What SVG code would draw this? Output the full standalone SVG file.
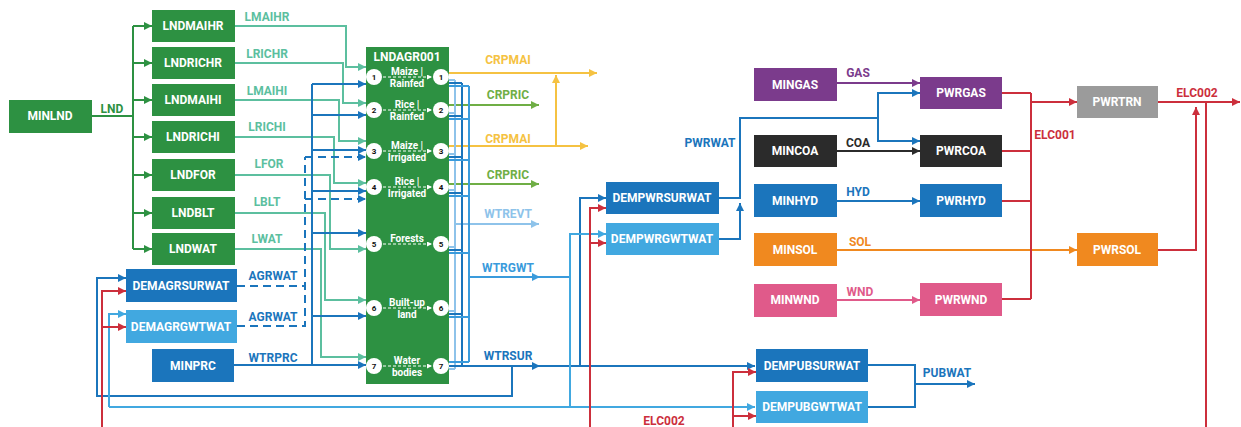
<svg xmlns="http://www.w3.org/2000/svg" width="1241" height="427" viewBox="0 0 1241 427">
<style>
text{font-family:Roboto,"Liberation Sans",Arial,sans-serif;font-weight:bold;}
.nt{fill:#fff;font-size:12px;text-anchor:middle;dominant-baseline:central;}
.lb{font-size:12px;text-anchor:middle;dominant-baseline:central;}
.in{fill:#fff;font-size:10px;text-anchor:middle;dominant-baseline:central;}
.cn{fill:#111;font-size:8px;text-anchor:middle;dominant-baseline:central;}
.c{fill:#fff;}
#connectors path{fill:none;stroke-width:2;}
.ah{stroke:none;}
.g{stroke:#2d9142;}
.t{stroke:#5cbf9f;}
.b{stroke:#1b75bc;}
.lbl{stroke:#41a8e0;}
.gw{stroke:#3a9bdc;}
.ev{stroke:#8ec3ea;}
.r{stroke:#cc2f3c;}
.y{stroke:#f5c242;}
.lg{stroke:#6fae45;}
.p{stroke:#7b3b8c;}
.k{stroke:#2b2b2b;}
.o{stroke:#f0891f;}
.pk{stroke:#e05a8a;}
.d{stroke-dasharray:8,5;}
.wd{stroke:#fff;stroke-width:1;stroke-dasharray:3,2;}
</style>
<defs>
<marker id="mg" viewBox="0 0 10 10" refX="10" refY="5" markerWidth="9" markerHeight="8" markerUnits="userSpaceOnUse" orient="auto"><path class="ah" d="M0,0L10,5L0,10z" fill="#2d9142"/></marker>
<marker id="mt" viewBox="0 0 10 10" refX="10" refY="5" markerWidth="9" markerHeight="8" markerUnits="userSpaceOnUse" orient="auto"><path class="ah" d="M0,0L10,5L0,10z" fill="#5cbf9f"/></marker>
<marker id="mb" viewBox="0 0 10 10" refX="10" refY="5" markerWidth="9" markerHeight="8" markerUnits="userSpaceOnUse" orient="auto"><path class="ah" d="M0,0L10,5L0,10z" fill="#1b75bc"/></marker>
<marker id="ml" viewBox="0 0 10 10" refX="10" refY="5" markerWidth="9" markerHeight="8" markerUnits="userSpaceOnUse" orient="auto"><path class="ah" d="M0,0L10,5L0,10z" fill="#41a8e0"/></marker>
<marker id="mgw" viewBox="0 0 10 10" refX="10" refY="5" markerWidth="9" markerHeight="8" markerUnits="userSpaceOnUse" orient="auto"><path class="ah" d="M0,0L10,5L0,10z" fill="#3a9bdc"/></marker>
<marker id="mev" viewBox="0 0 10 10" refX="10" refY="5" markerWidth="9" markerHeight="8" markerUnits="userSpaceOnUse" orient="auto"><path class="ah" d="M0,0L10,5L0,10z" fill="#8ec3ea"/></marker>
<marker id="mr" viewBox="0 0 10 10" refX="10" refY="5" markerWidth="9" markerHeight="8" markerUnits="userSpaceOnUse" orient="auto"><path class="ah" d="M0,0L10,5L0,10z" fill="#cc2f3c"/></marker>
<marker id="my" viewBox="0 0 10 10" refX="10" refY="5" markerWidth="9" markerHeight="8" markerUnits="userSpaceOnUse" orient="auto"><path class="ah" d="M0,0L10,5L0,10z" fill="#f5c242"/></marker>
<marker id="mlg" viewBox="0 0 10 10" refX="10" refY="5" markerWidth="9" markerHeight="8" markerUnits="userSpaceOnUse" orient="auto"><path class="ah" d="M0,0L10,5L0,10z" fill="#6fae45"/></marker>
<marker id="mp" viewBox="0 0 10 10" refX="10" refY="5" markerWidth="9" markerHeight="8" markerUnits="userSpaceOnUse" orient="auto"><path class="ah" d="M0,0L10,5L0,10z" fill="#7b3b8c"/></marker>
<marker id="mk" viewBox="0 0 10 10" refX="10" refY="5" markerWidth="9" markerHeight="8" markerUnits="userSpaceOnUse" orient="auto"><path class="ah" d="M0,0L10,5L0,10z" fill="#2b2b2b"/></marker>
<marker id="mo" viewBox="0 0 10 10" refX="10" refY="5" markerWidth="9" markerHeight="8" markerUnits="userSpaceOnUse" orient="auto"><path class="ah" d="M0,0L10,5L0,10z" fill="#f0891f"/></marker>
<marker id="mpk" viewBox="0 0 10 10" refX="10" refY="5" markerWidth="9" markerHeight="8" markerUnits="userSpaceOnUse" orient="auto"><path class="ah" d="M0,0L10,5L0,10z" fill="#e05a8a"/></marker>
<marker id="mw" viewBox="0 0 10 10" refX="10" refY="5" markerWidth="6" markerHeight="5" markerUnits="userSpaceOnUse" orient="auto"><path class="ah" d="M0,0L10,5L0,10z" fill="#fff"/></marker>
</defs>

<g id="connectors">
<path class="g" d="M91,116H133M133,26V249"/>
<path class="g" d="M133,26H152" marker-end="url(#mg)"/>
<path class="g" d="M133,63H152" marker-end="url(#mg)"/>
<path class="g" d="M133,100H152" marker-end="url(#mg)"/>
<path class="g" d="M133,137H152" marker-end="url(#mg)"/>
<path class="g" d="M133,175H152" marker-end="url(#mg)"/>
<path class="g" d="M133,213H152" marker-end="url(#mg)"/>
<path class="g" d="M133,249H152" marker-end="url(#mg)"/>
<path class="t" d="M235,26H346V67H366" marker-end="url(#mt)"/>
<path class="t" d="M235,63H343V103H366" marker-end="url(#mt)"/>
<path class="t" d="M235,100H339V141H366" marker-end="url(#mt)"/>
<path class="t" d="M235,137H334V183H366" marker-end="url(#mt)"/>
<path class="t" d="M235,175H330V249H366" marker-end="url(#mt)"/>
<path class="t" d="M235,213H325V300H366" marker-end="url(#mt)"/>
<path class="t" d="M235,249H321V357H366" marker-end="url(#mt)"/>
<path class="b" d="M234,365H312V84"/>
<path class="b" d="M312,365H366" marker-end="url(#mb)"/>
<path class="b" d="M312,84H366" marker-end="url(#mb)"/>
<path class="b" d="M312,115H366" marker-end="url(#mb)"/>
<path class="b" d="M312,150H366" marker-end="url(#mb)"/>
<path class="b" d="M312,191H366" marker-end="url(#mb)"/>
<path class="b" d="M312,233H366" marker-end="url(#mb)"/>
<path class="b" d="M312,316H366" marker-end="url(#mb)"/>
<path class="b d" d="M237,286H305M237,326H305V157"/>
<path class="b d" d="M305,157H366" marker-end="url(#mb)"/>
<path class="b d" d="M305,199H366" marker-end="url(#mb)"/>
<path class="y" d="M449,73H597" marker-end="url(#my)"/>
<path class="y" d="M449,146H588" marker-end="url(#my)"/>
<path class="y" d="M556,146V75" marker-end="url(#my)"/>
<path class="lg" d="M449,105H539" marker-end="url(#mlg)"/>
<path class="lg" d="M449,184H539" marker-end="url(#mlg)"/>
<path class="ev" stroke-width="1.5" d="M449,80H455M449,113H455M449,154H455M449,190H455M449,247H455M449,311H455M449,369H455M455,80V369"/>
<path class="ev" d="M455,224H539" marker-end="url(#mev)"/>
<path class="b" stroke-width="1.5" d="M449,83H462M449,116H462M449,157H462M449,193H462M449,250H462M449,314H462M462,83V366"/>
<path class="gw" stroke-width="1.5" d="M449,86H469M449,119H469M449,160H469M449,196H469M449,253H469M449,317H469M449,362H469M469,86V362"/>
<path class="gw" d="M469,277H540" marker-end="url(#mgw)"/>
<path class="gw" d="M540,277H570"/>
<path class="b" d="M449,366H540" marker-end="url(#mb)"/>
<path class="b" d="M540,366H755" marker-end="url(#mb)"/>
<path class="b" d="M512,366V396H97V278H126" marker-end="url(#mb)"/>
<path class="b" d="M580,366V198H606" marker-end="url(#mb)"/>
<path class="lbl" d="M570,277V234H606" marker-end="url(#ml)"/>
<path class="lbl" d="M570,277V407"/>
<path class="lbl" d="M109,407H755" marker-end="url(#ml)"/>
<path class="lbl" d="M109,407V314H126" marker-end="url(#ml)"/>
<path class="r" d="M102,427V291H126" marker-end="url(#mr)"/>
<path class="r" d="M102,327H126" marker-end="url(#mr)"/>
<path class="r" d="M590,427V208H606" marker-end="url(#mr)"/>
<path class="r" d="M590,243H606" marker-end="url(#mr)"/>
<path class="r" d="M733,427V372H756" marker-end="url(#mr)"/>
<path class="r" d="M733,416H756" marker-end="url(#mr)"/>
<path class="b" d="M719,198H740V118H878V93H920" marker-end="url(#mb)"/>
<path class="b" d="M878,118V141H920" marker-end="url(#mb)"/>
<path class="b" d="M719,239H740V203" marker-end="url(#mb)"/>
<path class="p" d="M837,83H920" marker-end="url(#mp)"/>
<path class="k" d="M837,151H920" marker-end="url(#mk)"/>
<path class="b" d="M837,201H920" marker-end="url(#mb)"/>
<path class="o" d="M837,250H1077" marker-end="url(#mo)"/>
<path class="pk" d="M837,300H920" marker-end="url(#mpk)"/>
<path class="r" d="M1002,93H1031M1002,151H1031M1002,201H1031M1002,299H1031M1031,93V299"/>
<path class="r" d="M1031,102H1077" marker-end="url(#mr)"/>
<path class="r" d="M1158,102H1240" marker-end="url(#mr)"/>
<path class="r" d="M1158,250H1196V107" marker-end="url(#mr)"/>
<path class="r" d="M1206,102V427"/>
<path class="b" d="M868,365H915V407H868M915,384H975" marker-end="url(#mb)"/>
</g>

<g id="labels">
<text class="lb" x="112" y="109" fill="#2d9142">LND</text>
<text class="lb" x="267" y="17" fill="#5cbf9f">LMAIHR</text>
<text class="lb" x="267" y="54" fill="#5cbf9f">LRICHR</text>
<text class="lb" x="267" y="91" fill="#5cbf9f">LMAIHI</text>
<text class="lb" x="267" y="127" fill="#5cbf9f">LRICHI</text>
<text class="lb" x="269" y="164" fill="#5cbf9f">LFOR</text>
<text class="lb" x="267" y="202" fill="#5cbf9f">LBLT</text>
<text class="lb" x="267" y="239" fill="#5cbf9f">LWAT</text>
<text class="lb" x="273" y="276" fill="#1b75bc">AGRWAT</text>
<text class="lb" x="273" y="317" fill="#1b75bc">AGRWAT</text>
<text class="lb" x="273" y="358" fill="#1b75bc">WTRPRC</text>
<text class="lb" x="508" y="60" fill="#f5c242">CRPMAI</text>
<text class="lb" x="508" y="95" fill="#6fae45">CRPRIC</text>
<text class="lb" x="508" y="139" fill="#f5c242">CRPMAI</text>
<text class="lb" x="508" y="175" fill="#6fae45">CRPRIC</text>
<text class="lb" x="508" y="214" fill="#8ec3ea">WTREVT</text>
<text class="lb" x="508" y="268" fill="#3a9bdc">WTRGWT</text>
<text class="lb" x="508" y="356" fill="#1b75bc">WTRSUR</text>
<text class="lb" x="710" y="143" fill="#1b75bc">PWRWAT</text>
<text class="lb" x="858" y="73" fill="#7b3b8c">GAS</text>
<text class="lb" x="858" y="143" fill="#2b2b2b">COA</text>
<text class="lb" x="858" y="192" fill="#1b75bc">HYD</text>
<text class="lb" x="860" y="242" fill="#f0891f">SOL</text>
<text class="lb" x="860" y="292" fill="#e05a8a">WND</text>
<text class="lb" x="1055" y="135" fill="#cc2f3c">ELC001</text>
<text class="lb" x="1197" y="93" fill="#cc2f3c">ELC002</text>
<text class="lb" x="664" y="421" fill="#cc2f3c">ELC002</text>
<text class="lb" x="947" y="373" fill="#1b75bc">PUBWAT</text>
</g>

<g id="MINLND"><rect x="9" y="100" width="83" height="33" fill="#2d9142"/><text class="nt" x="50" y="116">MINLND</text></g>
<g id="LNDMAIHR"><rect x="152" y="10" width="83" height="32" fill="#2d9142"/><text class="nt" x="193" y="26">LNDMAIHR</text></g>
<g id="LNDRICHR"><rect x="152" y="47" width="83" height="32" fill="#2d9142"/><text class="nt" x="193" y="63">LNDRICHR</text></g>
<g id="LNDMAIHI"><rect x="152" y="84" width="83" height="32" fill="#2d9142"/><text class="nt" x="193" y="100">LNDMAIHI</text></g>
<g id="LNDRICHI"><rect x="152" y="121" width="83" height="32" fill="#2d9142"/><text class="nt" x="193" y="137">LNDRICHI</text></g>
<g id="LNDFOR"><rect x="152" y="159" width="83" height="32" fill="#2d9142"/><text class="nt" x="193" y="175">LNDFOR</text></g>
<g id="LNDBLT"><rect x="152" y="197" width="83" height="32" fill="#2d9142"/><text class="nt" x="193" y="213">LNDBLT</text></g>
<g id="LNDWAT"><rect x="152" y="233" width="83" height="32" fill="#2d9142"/><text class="nt" x="193" y="249">LNDWAT</text></g>
<g id="DEMAGRSURWAT"><rect x="126" y="269" width="111" height="33" fill="#1b75bc"/><text class="nt" x="181" y="286">DEMAGRSURWAT</text></g>
<g id="DEMAGRGWTWAT"><rect x="126" y="310" width="111" height="33" fill="#41a8e0"/><text class="nt" x="181" y="327">DEMAGRGWTWAT</text></g>
<g id="MINPRC"><rect x="152" y="349" width="82" height="33" fill="#1b75bc"/><text class="nt" x="193" y="366">MINPRC</text></g>

<g id="LNDAGR001">
<rect x="366" y="47" width="83" height="337" fill="#2d9142"/>
<text class="nt" x="407" y="57">LNDAGR001</text>
<g>
<circle class="c" cx="374" cy="77" r="8"/><circle class="c" cx="441" cy="77" r="8"/>
<text class="cn" x="374" y="77">1</text><text class="cn" x="441" y="77">1</text>
<line class="wd" x1="383" y1="77" x2="432" y2="77" marker-end="url(#mw)"/>
<text class="in" x="407" y="71">Maize |</text><text class="in" x="407" y="83">Rainfed</text>
</g>
<g>
<circle class="c" cx="374" cy="110" r="8"/><circle class="c" cx="441" cy="110" r="8"/>
<text class="cn" x="374" y="110">2</text><text class="cn" x="441" y="110">2</text>
<line class="wd" x1="383" y1="110" x2="432" y2="110" marker-end="url(#mw)"/>
<text class="in" x="407" y="104">Rice |</text><text class="in" x="407" y="116">Rainfed</text>
</g>
<g>
<circle class="c" cx="374" cy="151" r="8"/><circle class="c" cx="441" cy="151" r="8"/>
<text class="cn" x="374" y="151">3</text><text class="cn" x="441" y="151">3</text>
<line class="wd" x1="383" y1="151" x2="432" y2="151" marker-end="url(#mw)"/>
<text class="in" x="407" y="145">Maize |</text><text class="in" x="407" y="157">Irrigated</text>
</g>
<g>
<circle class="c" cx="374" cy="187" r="8"/><circle class="c" cx="441" cy="187" r="8"/>
<text class="cn" x="374" y="187">4</text><text class="cn" x="441" y="187">4</text>
<line class="wd" x1="383" y1="187" x2="432" y2="187" marker-end="url(#mw)"/>
<text class="in" x="407" y="181">Rice |</text><text class="in" x="407" y="193">Irrigated</text>
</g>
<g>
<circle class="c" cx="374" cy="244" r="8"/><circle class="c" cx="441" cy="244" r="8"/>
<text class="cn" x="374" y="244">5</text><text class="cn" x="441" y="244">5</text>
<line class="wd" x1="383" y1="244" x2="432" y2="244" marker-end="url(#mw)"/>
<text class="in" x="407" y="238">Forests</text>
</g>
<g>
<circle class="c" cx="374" cy="308" r="8"/><circle class="c" cx="441" cy="308" r="8"/>
<text class="cn" x="374" y="308">6</text><text class="cn" x="441" y="308">6</text>
<line class="wd" x1="383" y1="308" x2="432" y2="308" marker-end="url(#mw)"/>
<text class="in" x="407" y="302">Built-up</text><text class="in" x="407" y="314">land</text>
</g>
<g>
<circle class="c" cx="374" cy="366" r="8"/><circle class="c" cx="441" cy="366" r="8"/>
<text class="cn" x="374" y="366">7</text><text class="cn" x="441" y="366">7</text>
<line class="wd" x1="383" y1="366" x2="432" y2="366" marker-end="url(#mw)"/>
<text class="in" x="407" y="360">Water</text><text class="in" x="407" y="372">bodies</text>
</g>
</g>

<g id="DEMPWRSURWAT"><rect x="606" y="182" width="113" height="32" fill="#1b75bc"/><text class="nt" x="662" y="198">DEMPWRSURWAT</text></g>
<g id="DEMPWRGWTWAT"><rect x="606" y="223" width="113" height="32" fill="#41a8e0"/><text class="nt" x="662" y="239">DEMPWRGWTWAT</text></g>
<g id="DEMPUBSURWAT"><rect x="756" y="349" width="112" height="33" fill="#1b75bc"/><text class="nt" x="812" y="366">DEMPUBSURWAT</text></g>
<g id="DEMPUBGWTWAT"><rect x="756" y="391" width="112" height="32" fill="#41a8e0"/><text class="nt" x="812" y="407">DEMPUBGWTWAT</text></g>
<g id="MINGAS"><rect x="754" y="68" width="83" height="33" fill="#7b3b8c"/><text class="nt" x="795" y="85">MINGAS</text></g>
<g id="MINCOA"><rect x="754" y="135" width="83" height="32" fill="#2b2b2b"/><text class="nt" x="795" y="151">MINCOA</text></g>
<g id="MINHYD"><rect x="754" y="184" width="83" height="33" fill="#1b75bc"/><text class="nt" x="795" y="201">MINHYD</text></g>
<g id="MINSOL"><rect x="754" y="233" width="83" height="33" fill="#f0891f"/><text class="nt" x="795" y="250">MINSOL</text></g>
<g id="MINWND"><rect x="754" y="284" width="83" height="33" fill="#e05a8a"/><text class="nt" x="795" y="300">MINWND</text></g>
<g id="PWRGAS"><rect x="920" y="77" width="82" height="32" fill="#7b3b8c"/><text class="nt" x="961" y="93">PWRGAS</text></g>
<g id="PWRCOA"><rect x="920" y="135" width="82" height="32" fill="#2b2b2b"/><text class="nt" x="961" y="151">PWRCOA</text></g>
<g id="PWRHYD"><rect x="920" y="184" width="82" height="33" fill="#1b75bc"/><text class="nt" x="961" y="201">PWRHYD</text></g>
<g id="PWRWND"><rect x="920" y="283" width="82" height="33" fill="#e05a8a"/><text class="nt" x="961" y="300">PWRWND</text></g>
<g id="PWRTRN"><rect x="1077" y="86" width="81" height="32" fill="#9b9b9b"/><text class="nt" x="1117" y="102">PWRTRN</text></g>
<g id="PWRSOL"><rect x="1077" y="233" width="81" height="33" fill="#f0891f"/><text class="nt" x="1117" y="250">PWRSOL</text></g>
</svg>
